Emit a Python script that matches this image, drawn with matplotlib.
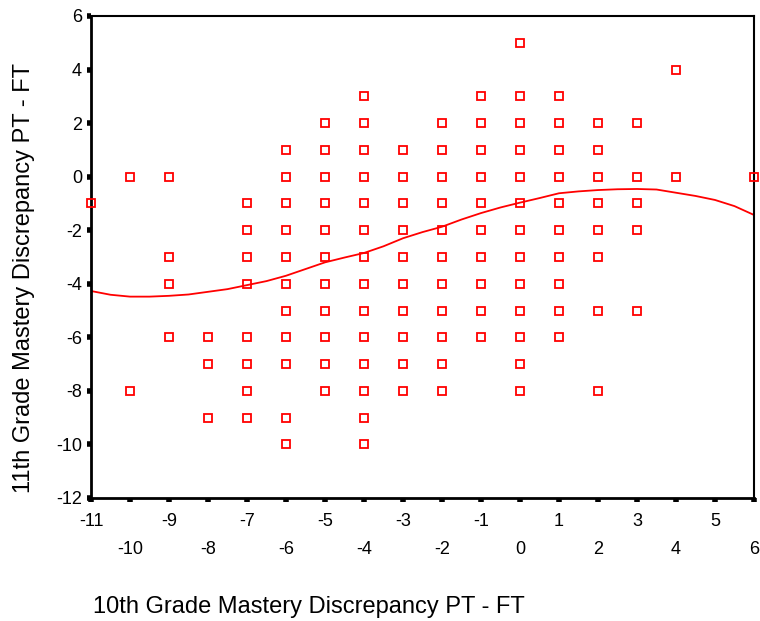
import matplotlib
matplotlib.use("Agg")
import matplotlib.pyplot as plt

plt.rcParams["font.family"] = ["Liberation Sans", "DejaVu Sans"]

# scatter points: 10th grade discrepancy (x) -> list of 11th grade discrepancies (y)
POINTS = {
    -11: [-1],
    -10: [0, -8],
    -9: [0, -3, -4, -6],
    -8: [-6, -7, -9],
    -7: [-1, -2, -3, -4, -6, -7, -8, -9],
    -6: [1, 0, -1, -2, -3, -4, -5, -6, -7, -9, -10],
    -5: [2, 1, 0, -1, -2, -3, -4, -5, -6, -7, -8],
    -4: [3, 2, 1, 0, -1, -2, -3, -4, -5, -6, -7, -8, -9, -10],
    -3: [1, 0, -1, -2, -3, -4, -5, -6, -7, -8],
    -2: [2, 1, 0, -1, -2, -3, -4, -5, -6, -7, -8],
    -1: [3, 2, 1, 0, -1, -2, -3, -4, -5, -6],
    0: [5, 3, 2, 1, 0, -1, -2, -3, -4, -5, -6, -7, -8],
    1: [3, 2, 1, 0, -1, -2, -3, -4, -5, -6],
    2: [2, 1, 0, -1, -2, -3, -5, -8],
    3: [2, 0, -1, -2, -5],
    4: [4, 0],
    6: [0],
}

# smoothed fit line
FIT_X = [-11, -10.5, -10, -9.5, -9, -8.5, -8, -7.5, -7, -6.5, -6, -5.5, -5,
         -4.5, -4, -3.5, -3, -2.5, -2, -1.5, -1, -0.5, 0, 0.5, 1, 1.5, 2,
         2.5, 3, 3.5, 4, 4.5, 5, 5.5, 6]
FIT_Y = [-4.27, -4.41, -4.48, -4.48, -4.45, -4.4, -4.3, -4.2, -4.05, -3.9,
         -3.7, -3.45, -3.2, -3.02, -2.85, -2.6, -2.3, -2.07, -1.87, -1.6,
         -1.36, -1.15, -0.97, -0.8, -0.62, -0.55, -0.5, -0.47, -0.46, -0.48,
         -0.6, -0.72, -0.87, -1.1, -1.43]

X_ODD = [-11, -9, -7, -5, -3, -1, 1, 3, 5]
X_EVEN = [-10, -8, -6, -4, -2, 0, 2, 4, 6]
Y_TICKS = [-12, -10, -8, -6, -4, -2, 0, 2, 4, 6]

xs = [x for x, ys in POINTS.items() for _ in ys]
ys = [y for _, yl in POINTS.items() for y in yl]

fig = plt.figure(figsize=(7.6, 6.21), dpi=100)
ax = fig.add_axes([91 / 760, 1 - 498 / 621, (754 - 91) / 760, (498 - 16) / 621])

ax.plot(xs, ys, linestyle="none", marker="s", ms=6, mfc="none",
        mec="#ff0000", mew=1.3, clip_on=False, zorder=3)
ax.plot(FIT_X, FIT_Y, color="#ff0000", lw=1.3, zorder=2)

ax.set_xlim(-11, 6)
ax.set_ylim(-12, 6)

ax.set_xticks(X_ODD)
ax.set_xticklabels([str(v) for v in X_ODD])
ax.set_xticks(X_EVEN, minor=True)
ax.set_xticklabels([str(v) for v in X_EVEN], minor=True)
ax.tick_params(axis="x", which="major", direction="out", length=3, width=4,
               pad=8, labelsize=13)
ax.tick_params(axis="x", which="minor", direction="out", length=3, width=4,
               pad=28, labelsize=13)

ax.set_yticks(Y_TICKS)
ax.set_yticklabels([str(v) for v in Y_TICKS])
ax.tick_params(axis="y", direction="out", length=3, width=4, pad=3.5,
               labelsize=13)

for side in ["left", "bottom"]:
    ax.spines[side].set_linewidth(2)
for side in ["top", "right"]:
    ax.spines[side].set_linewidth(1.5)

fig.text(93 / 760, 1 - 607 / 621, "10th Grade Mastery Discrepancy PT - FT",
         fontsize=17, ha="left", va="center")
fig.text(24 / 760, 1 - 278 / 621, "11th Grade Mastery Discrepancy PT - FT",
         fontsize=17, ha="center", va="center", rotation=90)

fig.savefig("out.png", dpi=100)
